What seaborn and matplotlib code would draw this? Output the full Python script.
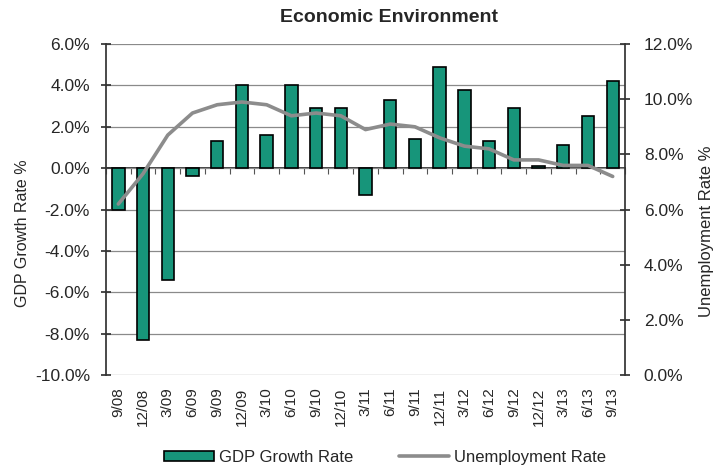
import numpy as np
import pandas as pd
import matplotlib
matplotlib.use("Agg")
import matplotlib.pyplot as plt
import seaborn as sns
from matplotlib.ticker import FuncFormatter
from matplotlib.patches import Patch
from matplotlib.lines import Line2D

quarters = ["9/08", "12/08", "3/09", "6/09", "9/09", "12/09", "3/10", "6/10", "9/10",
            "12/10", "3/11", "6/11", "9/11", "12/11", "3/12", "6/12", "9/12", "12/12",
            "3/13", "6/13", "9/13"]
gdp_growth = [-2.0, -8.3, -5.4, -0.4, 1.3, 4.0, 1.6, 4.0, 2.9, 2.9, -1.3, 3.3, 1.4, 4.9,
              3.8, 1.3, 2.9, 0.1, 1.1, 2.5, 4.2]
unemployment = [6.2, 7.3, 8.7, 9.5, 9.8, 9.9, 9.8, 9.4, 9.5, 9.4, 8.9, 9.1, 9.0, 8.6,
                8.3, 8.2, 7.8, 7.8, 7.6, 7.6, 7.2]

df = pd.DataFrame({"quarter": quarters, "gdp": gdp_growth, "unemp": unemployment})
df["pos"] = np.arange(len(df))

sns.set_theme(style="white")
plt.rcParams["font.family"] = ["Liberation Sans", "DejaVu Sans"]

fig = plt.figure(figsize=(7.16, 4.69), dpi=100)
ax = fig.add_axes([0.148, 0.2004, 0.725, 0.7056])

bar_color = "#17957a"
sns.barplot(data=df, x="quarter", y="gdp", color=bar_color, edgecolor="black",
            linewidth=1.2, width=0.5, saturation=1, ax=ax, zorder=3)

ax.set_ylim(-10, 6)
ax.set_yticks(np.arange(-10, 6.1, 2))
ax.yaxis.set_major_formatter(FuncFormatter(lambda v, p: f"{v:.1f}%"))
ax.set_xlim(-0.5, len(df) - 0.5)
ax.grid(axis="y", color="#8a8a8a", linewidth=0.9, zorder=0)
ax.set_axisbelow(True)
for s in ["top", "bottom"]:
    ax.spines[s].set_visible(False)
ax.spines["left"].set_color("#333333")
ax.spines["right"].set_visible(False)
ax.tick_params(axis="y", labelsize=12.5, length=7, direction="inout", color="#333333",
               left=True, pad=8)
ax.tick_params(axis="x", labelsize=11, length=0, pad=9)
ax.set_xticks(df["pos"])
ax.set_xticklabels(df["quarter"], rotation=90)
ax.set_xlabel("")
ax.set_ylabel("GDP Growth Rate %", fontsize=11.5)
ax.yaxis.set_label_coords(-0.146, 0.429)

# zero axis with category tick marks
sec = ax.secondary_xaxis(10 / 16)
sec.set_xticks(np.arange(-0.5, len(df), 1))
sec.set_xticklabels([])
sec.tick_params(axis="x", direction="in", length=4, color="#555555", width=0.8)
sec.spines["bottom"].set_color("#444444")
sec.spines["bottom"].set_linewidth(1.0)

ax2 = ax.twinx()
sns.lineplot(data=df, x="pos", y="unemp", color="#8c8c8c", linewidth=2.6, ax=ax2, zorder=4)
ax2.set_ylim(0, 12)
ax2.set_yticks(np.arange(0, 12.1, 2))
ax2.yaxis.set_major_formatter(FuncFormatter(lambda v, p: f"{v:.1f}%"))
ax2.set_ylabel("Unemployment Rate %", fontsize=12)
ax2.yaxis.set_label_coords(1.143, 0.435)
ax2.tick_params(axis="y", labelsize=12.5, length=7, direction="inout", color="#333333",
                right=True, pad=10)
for s in ["top", "bottom", "left"]:
    ax2.spines[s].set_visible(False)
ax2.spines["right"].set_color("#333333")
ax2.set_xlabel("")
ax2.grid(False)

fig.text(0.543, 0.963, "Economic Environment", ha="center", va="center",
         fontsize=14, fontweight="bold")

handles = [Patch(facecolor=bar_color, edgecolor="black", linewidth=1.2),
           Line2D([0], [0], color="#8c8c8c", linewidth=2.6)]
fig.legend(handles, ["GDP Growth Rate", "Unemployment Rate"], loc="center",
           bbox_to_anchor=(385 / 716, 0.025), ncol=2, frameon=False, fontsize=12,
           handlelength=3.0, handleheight=0.6, handletextpad=0.3, columnspacing=2.8,
           borderpad=0.1)

fig.savefig("out.png", dpi=100)
